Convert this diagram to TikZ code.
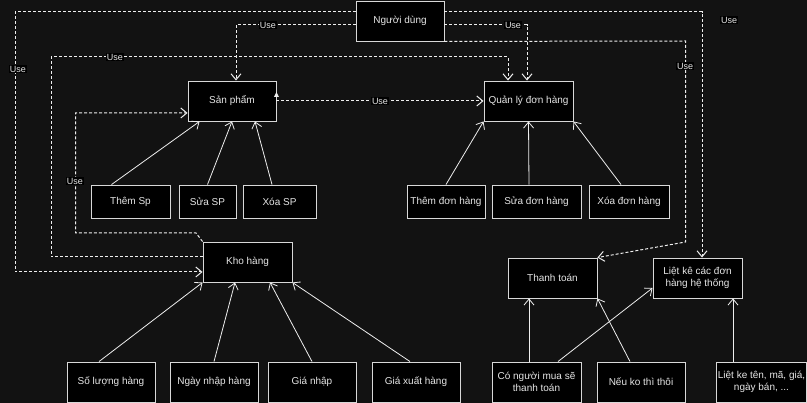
\documentclass[tikz,border=0pt]{standalone}
\usepackage{fontspec}
\setmainfont{Liberation Sans}
\usetikzlibrary{arrows.meta}
\definecolor{bgc}{HTML}{121212}
\definecolor{edgec}{HTML}{EEEEEE}
\definecolor{boxc}{HTML}{D8D8D8}
\definecolor{txtc}{HTML}{E6E6E6}
\begin{document}
\begin{tikzpicture}[x=1pt,y=-1pt,
  box/.style={draw=boxc,fill=black,text=txtc,line width=0.9pt,inner sep=1pt,align=center,
    font=\fontsize{10}{12}\selectfont,minimum height=40pt},
  small/.style={box,minimum height=33pt},
  link/.style={draw=edgec,line width=0.8pt,-{Straight Barb[length=6pt,width=10pt]}},
  uses/.style={link,line width=1pt,dash pattern=on 3pt off 2pt},
  uselbl/.style={fill=black,text=txtc,inner sep=0.6pt,font=\fontsize{9}{10}\selectfont}]
\useasboundingbox (0,0) rectangle (807,403);
\fill[bgc] (0,0) rectangle (807,403);

\node[box,minimum width=88pt] (user) at (400,21) {Người dùng};
\node[box,minimum width=88pt] (sp) at (232,101) {Sản phẩm};
\node[box,minimum width=89pt] (qldh) at (528.5,101) {Quản lý đơn hàng};
\node[small,minimum width=79pt] (themsp) at (130.5,201.5) {Thêm Sp};
\node[small,minimum width=57pt] (suasp) at (207.5,201.5) {Sửa SP};
\node[small,minimum width=73pt] (xoasp) at (279.5,201.5) {Xóa SP};
\node[small,minimum width=78pt] (themdh) at (446,201.5) {Thêm đơn hàng};
\node[small,minimum width=89pt] (suadh) at (536.5,201.5) {Sửa đơn hàng};
\node[small,minimum width=80pt] (xoadh) at (629,201.5) {Xóa đơn hàng};
\node[box,minimum width=89pt] (kho) at (247.5,262) {Kho hàng};
\node[box,minimum width=89pt] (tt) at (552.5,278) {Thanh toán};
\node[box,minimum width=89pt] (lk) at (697.5,278) {Liệt kê các đơn\\hàng hệ thống};
\node[box,minimum width=88pt] (slh) at (111,382) {Số lượng hàng};
\node[box,minimum width=88pt] (nnh) at (214,382) {Ngày nhập hàng};
\node[box,minimum width=88pt] (gn) at (312,382) {Giá nhập};
\node[box,minimum width=88pt] (gx) at (416,382) {Giá xuất hàng};
\node[box,minimum width=89pt] (cnm) at (536.5,382) {Có người mua sẽ\\thanh toán};
\node[box,minimum width=88pt] (nkt) at (641,382) {Nếu ko thì thôi};
\node[box,minimum width=89pt] (lkt) at (761.5,382) {Liệt ke tên, mã, giá,\\ngày bán, ...};

\draw[link] ([xshift=-19pt]themsp.north) -- ([xshift=12pt]sp.south west);
\draw[link] (suasp.north) -- (sp.south);
\draw[link] ([xshift=-7.5pt]xoasp.north) -- ([xshift=23pt]sp.south);
\draw[link] (themdh.north) -- (qldh.south west);
\draw[link] ([xshift=-7.5pt]suadh.north) -- (qldh.south);
\draw[link] ([xshift=-8pt]xoadh.north) -- (qldh.south east);
\draw[link] ([xshift=-12pt]slh.north) -- (kho.south west);
\draw[link] (nnh.north) -- ([xshift=-12.5pt]kho.south);
\draw[link] (gn.north) -- ([xshift=22.5pt]kho.south);
\draw[link] ([xshift=-6pt]gx.north) -- (kho.south east);
\draw[link] ([xshift=-7.5pt]cnm.north) -- ([xshift=-23.5pt]tt.south);
\draw[link] ([xshift=21.5pt]cnm.north) -- ([yshift=-10pt]lk.west);
\draw[link] ([xshift=-11pt]nkt.north) -- (tt.south east);
\draw[link] ([xshift=-28.5pt]lkt.north) -- ([xshift=35.5pt]lk.south);

\draw[uses] ([yshift=9pt]user.west) -- (15,12) |- ([yshift=-10pt]kho.west);
\draw[uses] ([yshift=-4pt]user.west) -| ([xshift=4pt]sp.north);
\draw[uses] ([yshift=-4pt]user.east) -| ([xshift=-1.5pt]qldh.north);
\draw[uses] ([yshift=9pt]user.east) -| ([xshift=4.5pt]lk.north);
\draw[uses] ([yshift=5pt]kho.west) -| (51,57) -| ([xshift=-20.5pt]qldh.north);
\draw[uses] (kho.north west) -- (196,233) -| (75.5,113) -- ([yshift=-12pt]sp.west);
\draw[uses] (sp.east) -- (qldh.west);
\draw[uses] (user.south east) -- (685.5,41) -- (685.5,242) -- (tt.north east);
\fill[edgec] ([yshift=9pt]sp.east) -- ++(-2.5,5) -- ++(5,0) -- cycle;

\node[uselbl] (u1) at (18,69) {Use};
\node[uselbl] (u2) at (268,25) {Use};
\node[uselbl] (u3) at (513,25) {Use};
\node[uselbl] (u4) at (729,20) {Use};
\node[uselbl] (u5) at (115,57) {Use};
\node[uselbl] (u6) at (75,181) {Use};
\node[uselbl] (u7) at (380,101) {Use};
\node[uselbl] (u8) at (685,66) {Use};
\end{tikzpicture}
\end{document}
